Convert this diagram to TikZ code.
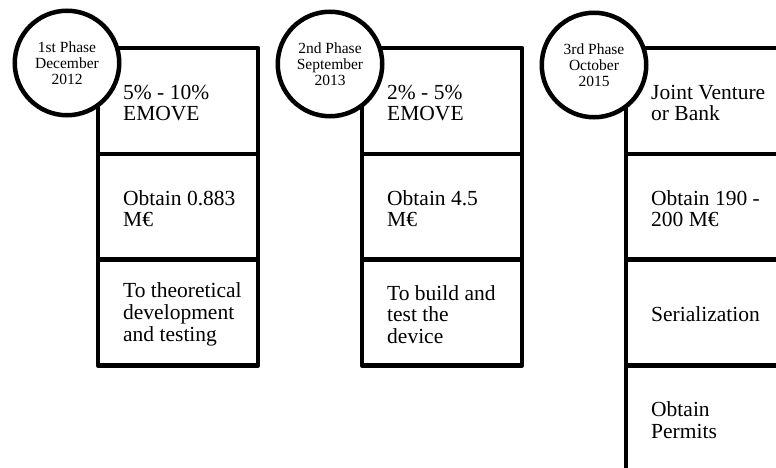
\documentclass[tikz,border=0pt]{standalone}
\usepackage{fontspec}
\setmainfont{Liberation Serif}
\usetikzlibrary{positioning}

\begin{document}
\begin{tikzpicture}[x=1pt,y=-1pt,
  cell/.style={draw,line width=4.5pt,line join=round,minimum width=160pt,minimum height=105.8pt,
    anchor=north west,inner sep=0pt,outer sep=0pt},
  txt/.style={anchor=west,align=left,inner sep=0pt,yshift=-2pt,font=\fontsize{21.5}{21.7}\selectfont},
  phase/.style={draw,circle,line width=4.5pt,fill=white,minimum size=104.5pt,inner sep=0pt,
    align=center,font=\fontsize{15.5}{16}\selectfont}]
  \def\gap{25pt}   % text inset from the left border
  \useasboundingbox (0,0) rectangle (776,468);
  \clip (0,0) rectangle (776,468);
  % 1st phase
  \node[cell] (p1a) at (98,48) {};
  \node[cell,below=0pt of p1a] (p1b) {};
  \node[cell,below=0pt of p1b] (p1c) {};
  \node[txt,right=\gap of p1a.west] (t1a) {5\% - 10\%\\EMOVE};
  \node[txt,right=\gap of p1b.west] (t1b) {Obtain 0.883\\M€};
  \node[txt,right=\gap of p1c.west] (t1c) {To theoretical\\development\\and testing};
  % 2nd phase
  \node[cell] (p2a) at (362,48) {};
  \node[cell,below=0pt of p2a] (p2b) {};
  \node[cell,below=0pt of p2b] (p2c) {};
  \node[txt,right=\gap of p2a.west] (t2a) {2\% - 5\%\\EMOVE};
  \node[txt,right=\gap of p2b.west] (t2b) {Obtain 4.5\\M€};
  \node[txt,right=\gap of p2c.west] (t2c) {To build and\\test the\\device};
  % 3rd phase
  \node[cell] (p3a) at (626,48) {};
  \node[cell,below=0pt of p3a] (p3b) {};
  \node[cell,below=0pt of p3b] (p3c) {};
  \node[cell,below=0pt of p3c] (p3d) {};
  \node[txt,right=\gap of p3a.west] (t3a) {Joint Venture\\or Bank};
  \node[txt,right=\gap of p3b.west] (t3b) {Obtain 190 -\\200 M€};
  \node[txt,right=\gap of p3c.west] (t3c) {Serialization};
  \node[txt,right=\gap of p3d.west] (t3d) {Obtain\\Permits};
  % phase circles on top
  \node[phase] (ph1) at ([xshift=-31pt,yshift=-15pt]p1a.north west) {1st Phase\\December\\2012};
  \node[phase] (ph2) at ([xshift=-32pt,yshift=-16pt]p2a.north west) {2nd Phase\\September\\2013};
  \node[phase] (ph3) at ([xshift=-32pt,yshift=-17pt]p3a.north west) {3rd Phase\\October\\2015};
\end{tikzpicture}
\end{document}
